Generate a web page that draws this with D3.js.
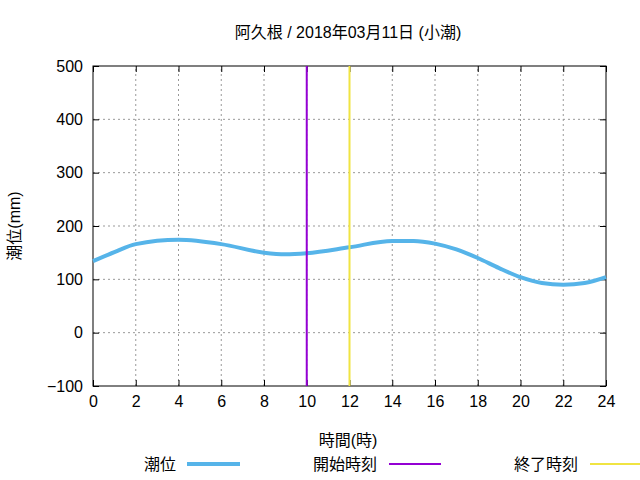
<!DOCTYPE html>
<html><head><meta charset="utf-8">
<script src="https://cdn.jsdelivr.net/npm/d3@7"></script>
<style>body{margin:0;background:#fff}text{font-family:"Liberation Sans","Noto Sans CJK JP",sans-serif}</style>
</head><body><div id="chart"></div>
<script>
const hours = [0, 1, 2, 4, 6, 8, 9, 10, 12, 14, 15, 16, 17, 18, 19, 20, 21, 22, 23, 24];
const tide = [134, 151, 166, 174, 166, 150, 147, 149, 160, 172, 172, 167, 156, 140, 121, 104, 93, 90, 93, 104];
const startHour = 10;
const endHour = 12;
const xTicks = d3.range(0, 25, 2);
const yTicks = d3.range(-100, 501, 100);
const title = "阿久根 / 2018年03月11日 (小潮)";

const width = 640, height = 480;
const margin = { top: 66, right: 34, bottom: 94, left: 93 };
const svg = d3.select("#chart").append("svg").attr("width", width).attr("height", height);

const x = d3.scaleLinear().domain([0, 24]).range([margin.left, width - margin.right]);
const y = d3.scaleLinear().domain([-100, 500]).range([height - margin.bottom, margin.top]);

// grid
svg.append("g").selectAll("line").data(xTicks.slice(1, -1)).join("line")
    .attr("x1", d => x(d)).attr("x2", d => x(d)).attr("y1", y(-100)).attr("y2", y(500))
    .attr("stroke", "#999").attr("stroke-dasharray", "2,3");
svg.append("g").selectAll("line").data(yTicks.slice(1, -1)).join("line")
    .attr("x1", x(0)).attr("x2", x(24)).attr("y1", d => y(d)).attr("y2", d => y(d))
    .attr("stroke", "#999").attr("stroke-dasharray", "2,3");

const xAxis = svg.append("g").attr("transform", `translate(0,${y(-100)})`)
    .call(d3.axisBottom(x).tickValues(xTicks).tickSizeInner(-6).tickSizeOuter(0).tickPadding(10));
const yAxis = svg.append("g").attr("transform", `translate(${x(0)},0)`)
    .call(d3.axisLeft(y).tickValues(yTicks).tickSizeInner(-6).tickSizeOuter(0).tickPadding(10));
// mirrored ticks
svg.append("g").attr("transform", `translate(0,${y(500)})`)
    .call(d3.axisTop(x).tickValues(xTicks).tickSizeInner(-6).tickSizeOuter(0).tickFormat(""));
svg.append("g").attr("transform", `translate(${x(24)},0)`)
    .call(d3.axisRight(y).tickValues(yTicks).tickSizeInner(-6).tickSizeOuter(0).tickFormat(""));
svg.selectAll(".domain").remove();
svg.selectAll(".tick text").style("font-size", "16px").attr("fill", "#000");
svg.append("rect").attr("x", x(0)).attr("y", y(500)).attr("width", x(24) - x(0)).attr("height", y(-100) - y(500))
    .attr("fill", "none").attr("stroke", "#000");

const line = d3.line().curve(d3.curveMonotoneX).x(d => x(d[0])).y(d => y(d[1]));
svg.append("path").datum(hours.map((h, i) => [h, tide[i]])).attr("d", line)
    .attr("fill", "none").attr("stroke", "#56b4e9").attr("stroke-width", 4);

svg.append("line").attr("x1", x(startHour)).attr("x2", x(startHour)).attr("y1", y(-100)).attr("y2", y(500))
    .attr("stroke", "#9400d3").attr("stroke-width", 2);
svg.append("line").attr("x1", x(endHour)).attr("x2", x(endHour)).attr("y1", y(-100)).attr("y2", y(500))
    .attr("stroke", "#f0e442").attr("stroke-width", 2);

svg.append("text").attr("x", 348).attr("y", 38).attr("text-anchor", "middle").style("font-size", "16px").text(title);
svg.append("text").attr("x", 348).attr("y", 446).attr("text-anchor", "middle").style("font-size", "16px").text("時間(時)");
svg.append("text").attr("transform", "translate(20,226) rotate(-90)").attr("text-anchor", "middle").style("font-size", "16px").text("潮位(mm)");

// legend
const legend = [
    { label: "潮位", color: "#56b4e9", w: 4, tx: 176, x1: 187, x2: 240 },
    { label: "開始時刻", color: "#9400d3", w: 2, tx: 377, x1: 389, x2: 441 },
    { label: "終了時刻", color: "#f0e442", w: 2, tx: 578, x1: 590, x2: 640 }
];
legend.forEach(d => {
    svg.append("text").attr("x", d.tx).attr("y", 470).attr("text-anchor", "end").style("font-size", "16px").text(d.label);
    svg.append("line").attr("x1", d.x1).attr("x2", d.x2).attr("y1", 464).attr("y2", 464)
        .attr("stroke", d.color).attr("stroke-width", d.w);
});
</script></body></html>
